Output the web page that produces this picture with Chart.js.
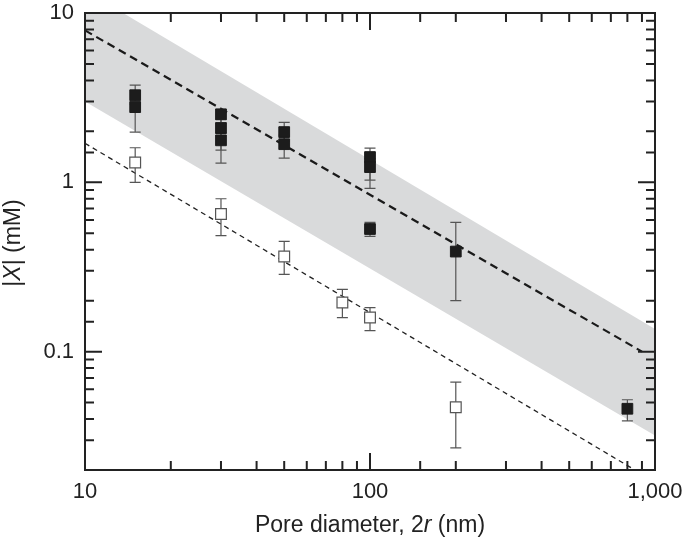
<!DOCTYPE html>
<html>
<head>
<meta charset="utf-8">
<script src="https://cdn.jsdelivr.net/npm/chart.js@4.4.1/dist/chart.umd.min.js"></script>
<style>
  html, body { margin: 0; padding: 0; background: #fff; }
  #wrap { width: 685px; height: 538px; }
</style>
</head>
<body>
<div id="wrap"><canvas id="pore-chart"></canvas></div>
<script>
// ─── DATA ─────────────────────────────────
const filledX    = [15, 15, 30, 30, 30, 50, 50, 100, 100, 100, 200, 800];
const filledY    = [3.27, 2.78, 2.52, 2.09, 1.77, 1.98, 1.68, 1.41, 1.23, 0.53, 0.39, 0.046];
const filledLow  = [2.9, 1.98, 2.25, 1.55, 1.3, 1.75, 1.39, 1.03, 0.92, 0.48, 0.2, 0.039];
const filledHigh = [3.75, 3.0, 2.7, 2.35, 1.95, 2.26, 1.9, 1.59, 1.38, 0.58, 0.58, 0.052];

const openX    = [15, 30, 50, 80, 100, 200];
const openY    = [1.31, 0.65, 0.365, 0.195, 0.159, 0.047];
const openLow  = [1.0, 0.485, 0.286, 0.159, 0.133, 0.027];
const openHigh = [1.6, 0.8, 0.448, 0.233, 0.182, 0.066];

const upperFitX = [10, 900];
const upperFitY = [7.9, 0.1];
const lowerFitX = [10, 850];
const lowerFitY = [1.7, 0.02];

const bandX       = [10, 1000];
const bandTopY    = [13.6, 0.136];
const bandBottomY = [3.0, 0.032];

const xTickLabels = { 10: '10', 100: '100', 1000: '1,000' };
const yTickLabels = { 10: '10', 1: '1', 0.1: '0.1' };

const pts = (xs, ys) => xs.map((x, i) => ({ x, y: ys[i] }));
const isMajor = v => Math.abs(Math.log10(v) - Math.round(Math.log10(v))) < 1e-6;
const FONT = "'Liberation Sans', Arial, Helvetica, sans-serif";
const FSIZE = 22;
const TITLE_SIZE = 23;

// ─── ERROR BARS + FRAME + TITLES ─────────────────────────────────
const errorBars = {
  1: { xs: filledX, lo: filledLow, hi: filledHigh },
  0: { xs: openX, lo: openLow, hi: openHigh }
};

const decorPlugin = {
  id: 'decor',
  beforeDatasetDraw(chart, args) {
    const eb = errorBars[args.index];
    if (!eb) return;
    const { ctx, scales: { x, y } } = chart;
    ctx.save();
    ctx.strokeStyle = '#555';
    ctx.lineWidth = 1.2;
    eb.xs.forEach((xv, i) => {
      const px = x.getPixelForValue(xv);
      const top = y.getPixelForValue(eb.hi[i]);
      const bot = y.getPixelForValue(eb.lo[i]);
      ctx.beginPath();
      ctx.moveTo(px, top); ctx.lineTo(px, bot);
      ctx.moveTo(px - 5.5, top); ctx.lineTo(px + 5.5, top);
      ctx.moveTo(px - 5.5, bot); ctx.lineTo(px + 5.5, bot);
      ctx.stroke();
    });
    ctx.restore();
  },
  afterDraw(chart) {
    const { ctx, chartArea: a, scales: { x, y } } = chart;
    ctx.save();
    ctx.strokeStyle = '#222';
    ctx.lineWidth = 2;
    // inward ticks on all four sides
    ctx.beginPath();
    x.ticks.forEach(t => {
      const px = x.getPixelForValue(t.value);
      const len = isMajor(t.value) ? 17 : 9;
      ctx.moveTo(px, a.bottom); ctx.lineTo(px, a.bottom - len);
      ctx.moveTo(px, a.top); ctx.lineTo(px, a.top + len);
    });
    y.ticks.forEach(t => {
      const py = y.getPixelForValue(t.value);
      const len = isMajor(t.value) ? 17 : 9;
      ctx.moveTo(a.left, py); ctx.lineTo(a.left + len, py);
      ctx.moveTo(a.right, py); ctx.lineTo(a.right - len, py);
    });
    ctx.stroke();
    ctx.strokeRect(a.left, a.top, a.right - a.left, a.bottom - a.top);

    // axis titles with italic parts
    const drawParts = (parts, cx, cy) => {
      let w = 0;
      parts.forEach(p => { ctx.font = p[1] + ' ' + TITLE_SIZE + 'px ' + FONT; w += ctx.measureText(p[0]).width; });
      let cur = cx - w / 2;
      parts.forEach(p => {
        ctx.font = p[1] + ' ' + TITLE_SIZE + 'px ' + FONT;
        ctx.fillText(p[0], cur, cy);
        cur += ctx.measureText(p[0]).width;
      });
    };
    ctx.fillStyle = '#222';
    ctx.textBaseline = 'alphabetic';
    ctx.textAlign = 'left';
    drawParts([['Pore diameter, 2', 'normal'], ['r', 'italic'], [' (nm)', 'normal']], (a.left + a.right) / 2, 532);
    ctx.translate(20, 243);
    ctx.rotate(-Math.PI / 2);
    drawParts([['|', 'normal'], ['X', 'italic'], ['| (mM)', 'normal']], 0, 0);
    ctx.restore();
  }
};

// ─── CHART ─────────────────────────────────
const ctx = document.getElementById('pore-chart').getContext('2d');
new Chart(ctx, {
  type: 'scatter',
  data: {
    datasets: [
      {
        data: pts(openX, openY), order: 1,
        pointStyle: 'rect', pointRadius: 7.6, pointHoverRadius: 7.6,
        backgroundColor: '#fff', borderColor: '#555', borderWidth: 1.2
      },
      {
        data: pts(filledX, filledY), order: 0,
        pointStyle: 'rect', pointRadius: 7.6, pointHoverRadius: 7.6,
        backgroundColor: '#1c1c1c', borderColor: '#1c1c1c', borderWidth: 1
      },
      {
        type: 'line', data: pts(upperFitX, upperFitY), order: 2,
        borderColor: '#1a1a1a', borderWidth: 2.2, borderDash: [8, 5],
        pointRadius: 0, fill: false
      },
      {
        type: 'line', data: pts(lowerFitX, lowerFitY), order: 3,
        borderColor: '#222', borderWidth: 1.3, borderDash: [5, 4],
        pointRadius: 0, fill: false
      },
      {
        type: 'line', data: pts(bandX, bandTopY), order: 4,
        borderWidth: 0, borderColor: 'rgba(0,0,0,0)', pointRadius: 0,
        backgroundColor: '#d9dadb', fill: '+1'
      },
      {
        type: 'line', data: pts(bandX, bandBottomY), order: 5,
        borderWidth: 0, borderColor: 'rgba(0,0,0,0)', pointRadius: 0, fill: false
      }
    ]
  },
  options: {
    responsive: true,
    maintainAspectRatio: false,
    animation: false,
    layout: { padding: { left: 0, top: 13, right: 30, bottom: 0 } },
    plugins: { legend: { display: false }, tooltip: { enabled: false } },
    scales: {
      x: {
        type: 'logarithmic', min: 10, max: 1000,
        grid: { display: false, drawTicks: false },
        border: { display: false },
        ticks: {
          autoSkip: false, maxRotation: 0, padding: 9, color: '#222',
          font: { family: FONT, size: FSIZE },
          callback: v => xTickLabels[v] || ''
        },
        afterFit: s => { s.height = 68; s.paddingLeft = 0; s.paddingRight = 0; }
      },
      y: {
        type: 'logarithmic', min: 0.02, max: 10,
        grid: { display: false, drawTicks: false },
        border: { display: false },
        ticks: {
          autoSkip: false, padding: 11, color: '#222',
          font: { family: FONT, size: FSIZE },
          callback: v => yTickLabels[v] || ''
        },
        afterFit: s => { s.width = 85; s.paddingTop = 0; s.paddingBottom = 0; }
      }
    }
  },
  plugins: [decorPlugin]
});
</script>
</body>
</html>
